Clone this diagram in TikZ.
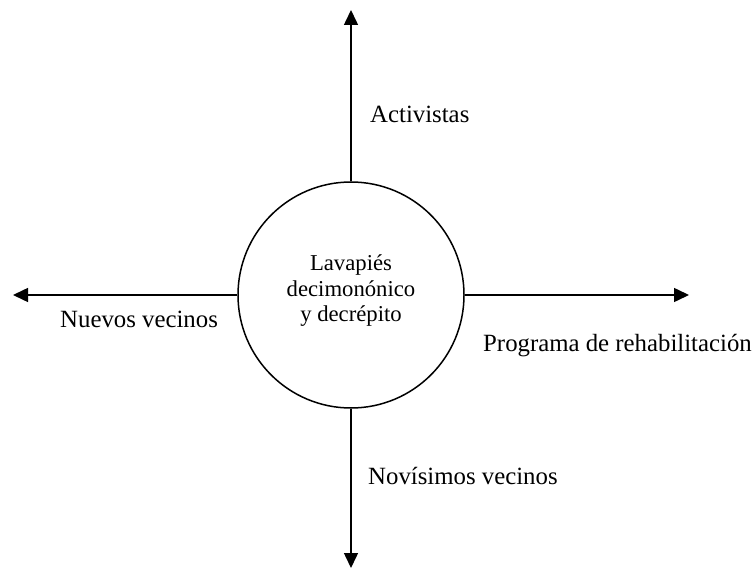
\documentclass[tikz,border=0pt]{standalone}
\usepackage{fontspec}
\setmainfont{Liberation Serif}
\usetikzlibrary{arrows.meta}
\begin{document}
\begin{tikzpicture}[x=1pt,y=-1pt,
  arr/.style={line width=1.5pt,-{Triangle[length=15pt,width=14pt]}},
  lab/.style={anchor=base west,inner sep=0pt,font=\fontsize{24.8}{28}\selectfont}]
\useasboundingbox (0,0) rectangle (754,569);
\node[circle,draw,line width=1.5pt,minimum size=226pt,inner sep=0pt] (c) at (351,295) {};
\node[align=center,font=\fontsize{22.7}{25.5}\selectfont,inner sep=0pt] (ct) at (351,291) {Lavapiés\\decimonónico\\y decrépito};
\coordinate (up) at (351,10);
\coordinate (down) at (351,568);
\coordinate (left) at (13,295);
\coordinate (right) at (689,295);
\draw[arr] (c.north) -- (up);
\draw[arr] (c.south) -- (down);
\draw[arr] (c.west) -- (left);
\draw[arr] (c.east) -- (right);
\node[lab] (act) at (370,123) {Activistas};
\node[lab] (nue) at (60,327) {Nuevos vecinos};
\node[lab] (pro) at (483,351) {Programa de rehabilitación};
\node[lab] (nov) at (368,484) {Novísimos vecinos};
\end{tikzpicture}
\end{document}
